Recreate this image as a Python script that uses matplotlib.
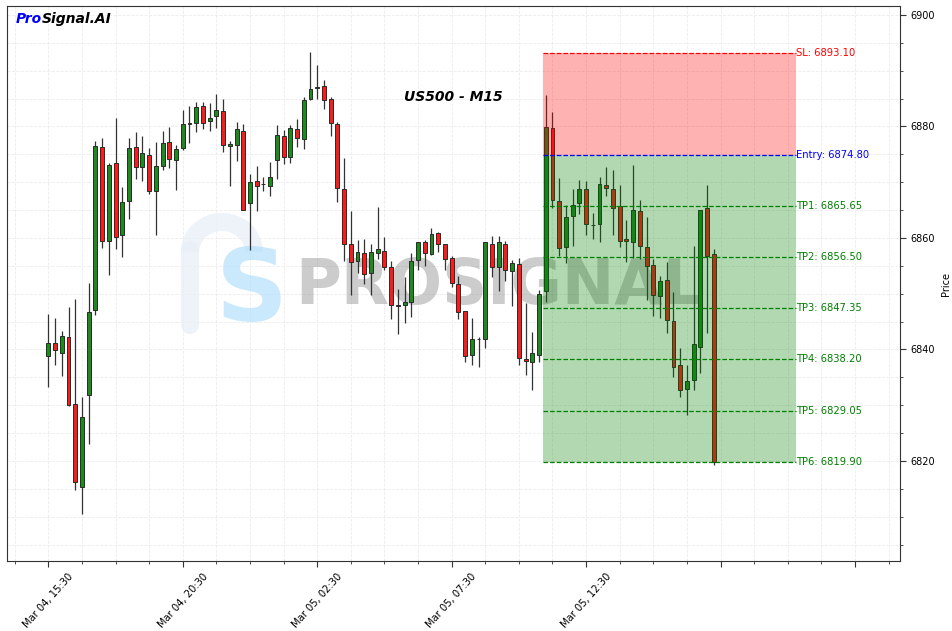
"""US500 M15 candlestick chart with signal zone."""

import matplotlib

matplotlib.use("Agg")
import matplotlib.pyplot as plt
from matplotlib.patches import Arc
from matplotlib.ticker import FixedLocator, MultipleLocator

# OHLC values, 15-minute candles
opens = [
    6838.8, 6841.1, 6839.3, 6842.2, 6830.2, 6815.3, 6831.8, 6847.0, 6876.4, 6859.5,
    6873.4, 6860.5, 6866.6, 6876.3, 6872.8, 6874.8, 6868.4, 6872.9, 6877.2, 6874.0,
    6876.1, 6880.6, 6880.6, 6883.6, 6880.9, 6881.8, 6882.8, 6876.5, 6876.6, 6879.2,
    6866.2, 6870.2, 6869.6, 6869.3, 6873.9, 6878.2, 6874.5, 6879.6, 6877.7, 6884.9,
    6886.9, 6887.2, 6884.9, 6880.4, 6868.7, 6859.0, 6855.8, 6857.3, 6853.7, 6857.3,
    6857.6, 6854.7, 6848.0, 6847.9, 6848.5, 6856.0, 6859.2, 6857.1, 6860.8, 6858.9,
    6856.4, 6851.7, 6846.9, 6839.0, 6841.8, 6841.8, 6858.9, 6854.7, 6859.0, 6854.0,
    6855.3, 6838.2, 6837.8, 6839.0, 6850.4, 6879.7, 6866.6, 6858.3, 6863.9, 6866.2,
    6868.7, 6862.3, 6862.5, 6869.5, 6868.7, 6865.7, 6859.8, 6859.2, 6864.8, 6858.3,
    6855.1, 6849.6, 6852.4, 6845.1, 6837.2, 6832.9, 6834.5, 6840.4, 6865.3, 6857.1,
]
highs = [
    6846.4, 6845.6, 6843.4, 6847.7, 6849.1, 6831.4, 6852.0, 6877.4, 6877.9, 6873.5,
    6881.5, 6869.2, 6877.9, 6879.0, 6878.3, 6876.1, 6877.2, 6879.2, 6879.9, 6876.6,
    6883.0, 6883.6, 6884.3, 6884.4, 6884.2, 6885.9, 6884.9, 6877.4, 6880.8, 6880.4,
    6871.4, 6872.9, 6870.9, 6873.7, 6880.2, 6879.4, 6880.3, 6881.3, 6885.2, 6893.3,
    6891.0, 6888.3, 6885.3, 6880.8, 6874.3, 6864.8, 6859.7, 6859.8, 6858.9, 6865.5,
    6860.1, 6855.8, 6850.8, 6853.0, 6857.3, 6859.2, 6859.6, 6861.7, 6861.1, 6858.9,
    6856.8, 6853.1, 6846.9, 6845.6, 6842.3, 6859.2, 6860.4, 6860.4, 6859.5, 6856.0,
    6856.4, 6848.4, 6843.2, 6850.7, 6885.7, 6882.6, 6870.7, 6865.9, 6868.7, 6870.4,
    6870.3, 6864.5, 6870.9, 6872.7, 6872.1, 6869.5, 6863.2, 6873.0, 6866.8, 6863.7,
    6856.2, 6853.1, 6855.6, 6850.3, 6840.2, 6837.3, 6858.5, 6865.0, 6869.5, 6858.0,
]
lows = [
    6833.2, 6837.2, 6835.2, 6829.9, 6814.8, 6810.5, 6823.0, 6846.1, 6858.2, 6853.3,
    6858.0, 6856.5, 6863.4, 6870.5, 6870.2, 6867.8, 6860.5, 6872.2, 6872.6, 6868.6,
    6875.8, 6877.0, 6879.0, 6879.5, 6879.2, 6879.7, 6875.4, 6869.3, 6873.8, 6865.1,
    6857.8, 6864.8, 6868.5, 6867.6, 6870.5, 6873.2, 6873.4, 6876.4, 6875.9, 6884.7,
    6884.9, 6883.1, 6878.2, 6866.4, 6855.8, 6849.7, 6853.8, 6851.7, 6849.8, 6856.2,
    6854.3, 6845.4, 6842.7, 6844.8, 6845.9, 6854.3, 6855.0, 6856.9, 6857.4, 6854.3,
    6851.2, 6845.4, 6837.7, 6837.3, 6836.8, 6840.2, 6853.0, 6850.5, 6852.3, 6847.8,
    6837.2, 6835.5, 6832.7, 6837.7, 6848.5, 6865.3, 6856.7, 6855.5, 6858.5, 6864.3,
    6860.5, 6859.8, 6859.3, 6867.5, 6860.5, 6858.4, 6855.6, 6856.4, 6856.2, 6848.8,
    6846.0, 6845.6, 6842.9, 6835.0, 6831.4, 6828.2, 6832.7, 6835.7, 6842.9, 6819.3,
]
closes = [
    6841.1, 6839.9, 6842.4, 6830.0, 6816.2, 6827.8, 6846.8, 6876.5, 6859.5, 6873.0,
    6860.1, 6866.4, 6876.1, 6872.7, 6875.2, 6868.4, 6872.9, 6877.0, 6874.1, 6875.9,
    6880.4, 6880.4, 6883.4, 6880.7, 6881.6, 6882.9, 6876.6, 6876.8, 6879.5, 6865.1,
    6870.1, 6869.3, 6869.7, 6870.9, 6878.4, 6874.5, 6879.8, 6877.9, 6884.7, 6886.7,
    6887.0, 6884.8, 6880.6, 6868.9, 6858.9, 6855.6, 6857.4, 6853.5, 6857.4, 6858.0,
    6854.8, 6847.9, 6847.8, 6848.6, 6855.8, 6859.2, 6857.3, 6860.7, 6858.9, 6856.2,
    6851.9, 6846.7, 6838.8, 6841.8, 6841.9, 6859.2, 6854.7, 6859.2, 6854.3, 6855.5,
    6838.4, 6838.0, 6839.3, 6849.9, 6879.9, 6866.8, 6858.2, 6863.7, 6865.9, 6868.7,
    6862.5, 6862.4, 6869.6, 6868.9, 6865.3, 6859.5, 6859.5, 6865.0, 6858.5, 6854.9,
    6849.7, 6852.2, 6845.2, 6836.8, 6832.7, 6834.3, 6840.9, 6865.0, 6856.7, 6819.8,
]

tick_pos = [0, 20, 40, 60, 80, 100, 120]
tick_labels = ["Mar 04, 15:30", "Mar 04, 20:30", "Mar 05, 02:30", "Mar 05, 07:30", "Mar 05, 12:30", "", ""]

entry = 6874.80
stop_loss = 6893.10
take_profits = [6865.65, 6856.50, 6847.35, 6838.20, 6829.05, 6819.90]

zone_start = 73.6
zone_end = 111.3

UP = "#198c19"
DOWN = "#ff1919"

fig = plt.figure(figsize=(9.53, 6.31), dpi=100)
ax = fig.add_axes([7 / 953, 70 / 631, 893 / 953, 555 / 631])

idx = list(range(len(opens)))
colors = [UP if c >= o else DOWN for o, c in zip(opens, closes)]
bottoms = [min(o, c) for o, c in zip(opens, closes)]
heights = [max(abs(c - o), 0.08) for o, c in zip(opens, closes)]

ax.vlines(idx, lows, highs, color="#333333", linewidth=0.9, zorder=2)
ax.bar(idx, heights, bottom=bottoms, width=0.58, color=colors,
       edgecolor="#2a2a2a", linewidth=0.7, zorder=3)

# signal zone, drawn above the candles
ax.fill_between([zone_start, zone_end], entry, stop_loss, color="red", alpha=0.3, linewidth=0, zorder=4)
ax.fill_between([zone_start, zone_end], take_profits[-1], entry, color="green", alpha=0.3, linewidth=0, zorder=4)

ax.hlines(stop_loss, zone_start, zone_end, colors="red", linestyles="--", linewidth=0.9, zorder=5)
ax.text(zone_end, stop_loss, f"SL: {stop_loss:.2f}", color="red", fontsize=7.2, va="center", ha="left")
ax.hlines(entry, zone_start, zone_end, colors="blue", linestyles="--", linewidth=0.9, zorder=5)
ax.text(zone_end, entry, f"Entry: {entry:.2f}", color="blue", fontsize=7.2, va="center", ha="left")
for i, tp in enumerate(take_profits, start=1):
    ax.hlines(tp, zone_start, zone_end, colors="green", linestyles="--", linewidth=0.9, zorder=5)
    ax.text(zone_end, tp, f"TP{i}: {tp:.2f}", color="green", fontsize=7.2, va="center", ha="left")

# watermark: faint "P" stroke plus light blue "S", then the brand name
px = lambda x: (x - 7) / 893
py = lambda y: (561 - y) / 555
ax.plot([px(190), px(190)], [py(325), py(250)], transform=ax.transAxes, color="#e9f0f7",
        linewidth=13, solid_capstyle="round", alpha=0.8, zorder=1)
ax.add_patch(Arc((px(222), py(252)), 64 / 893, 60 / 555, theta1=0, theta2=180,
                 transform=ax.transAxes, color="#e9f0f7", linewidth=13, alpha=0.8, zorder=1))
ax.text(px(252), py(293), "S", transform=ax.transAxes, fontsize=72, fontweight="bold",
        color="#a9dbfb", alpha=0.6, ha="center", va="center", zorder=1)
ax.text(0.551, 0.494, "PROSIGNAL", transform=ax.transAxes, fontsize=45, fontweight="bold",
        color="gray", alpha=0.4, ha="center", va="center", zorder=1)

ax.text(0.5, 0.836, "US500 - M15", transform=ax.transAxes, fontsize=10, fontweight="bold",
        fontstyle="italic", ha="center", va="center")
t = ax.text(0.01, 0.977, "Pro", transform=ax.transAxes, fontsize=10, fontweight="bold",
            fontstyle="italic", color="blue", ha="left", va="center")
ax.annotate("Signal.AI", xycoords=t, xy=(1, 0.5), va="center", ha="left", fontsize=10,
            fontweight="bold", fontstyle="italic", color="black")

ax.set_xlim(-6.15, 126.7)
ax.set_ylim(6802.06, 6901.6)

ax.xaxis.set_major_locator(FixedLocator(tick_pos))
ax.set_xticklabels(tick_labels, rotation=48, ha="center", fontsize=7.2)
ax.xaxis.set_minor_locator(MultipleLocator(5))

ax.yaxis.tick_right()
ax.yaxis.set_label_position("right")
ax.yaxis.set_major_locator(MultipleLocator(20))
ax.yaxis.set_minor_locator(MultipleLocator(5))
ax.tick_params(axis="y", labelsize=7)
ax.set_ylabel("Price", fontsize=7, labelpad=4)
ax.tick_params(which="major", length=4, color="#333333")
ax.tick_params(which="minor", length=2, color="#333333")

ax.grid(which="both", color="#e4e4e4", linestyle="--", linewidth=0.6, alpha=0.7, zorder=0)
ax.set_axisbelow(True)
for spine in ax.spines.values():
    spine.set_color("#333333")

fig.savefig("out.png", dpi=100)
